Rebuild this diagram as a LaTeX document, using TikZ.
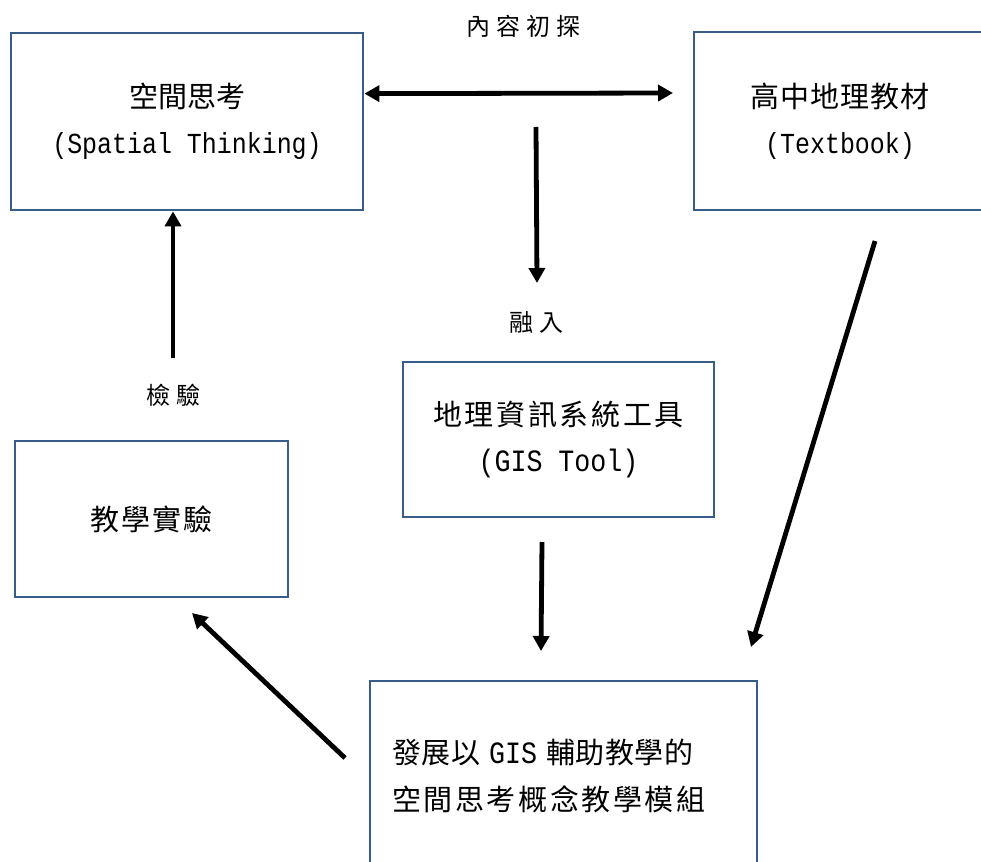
\documentclass[tikz,border=0pt]{standalone}
\usepackage{fontspec}
\setmainfont{Liberation Mono}[FakeStretch=0.86]
\newfontfamily\cjkfont{Noto Sans CJK TC}
\usetikzlibrary{arrows.meta,calc}
\definecolor{boxblue}{HTML}{385D8A}
% CJK run with extra tracking (percent of the font size)
\newcommand{\cjktext}[2]{{\cjkfont\addfontfeature{LetterSpace=#1}#2}}
\tikzset{
  box/.style={draw=boxblue, line width=2.8pt, align=center, inner sep=0pt,
    font=\fontsize{29pt}{46pt}\selectfont},
  lbl/.style={inner sep=0pt, font=\fontsize{24pt}{30pt}\selectfont},
  flow/.style={line width=4.8pt, -{Triangle[width=16pt,length=15pt]}},
  flowboth/.style={line width=4.8pt, {Triangle[width=16pt,length=15pt]}-{Triangle[width=16pt,length=15pt]}},
}
\begin{document}
\begin{tikzpicture}[x=1pt,y=-1pt]
\useasboundingbox (0,0) rectangle (981,861);

% boxes
\node[box, minimum width=352pt, minimum height=177pt] (spatial) at (187,121.5)
  {\cjktext{0}{空間思考}\\(Spatial Thinking)};
\node[box, minimum width=292pt, minimum height=178pt] (textbook) at (840,121)
  {\cjktext{4}{高中地理教材}\\(Textbook)};
\node[box, minimum width=311pt, minimum height=155pt] (gis) at (558.5,439.5)
  {\cjktext{9}{地理資訊系統工具}\\{\fontsize{31pt}{46pt}\selectfont(GIS Tool)}};
\node[box, minimum width=273pt, minimum height=156pt] (experiment) at (151.5,519)
  {\cjktext{7}{教學實驗}};
\node[box, minimum width=387pt, minimum height=189pt, align=left,
      text width=343pt, inner xsep=22pt,
      font=\fontsize{29pt}{47pt}\selectfont] (module) at (563.5,775.5)
  {\cjktext{2}{發展以}\kern9pt{\fontsize{31pt}{47pt}\selectfont GIS}\kern9pt\cjktext{2}{輔助教學的}\\
   \cjktext{9}{空間思考概念教學模組}};

% labels
\node[lbl] (explore) at (523,26) {\cjktext{25}{內容初探}};
\node[lbl] (merge) at (536,322) {\cjktext{25}{融入}};
\node[lbl] (check) at (173,395) {\cjktext{25}{檢驗}};

% connector end points
\coordinate (dblL) at ($(spatial.north east)!0.345!(spatial.south east)$);
\coordinate (dblR) at (673,93);
\coordinate (inS) at (536,127);
\coordinate (inE) at (537,283);
\coordinate (upS) at (173,358);
\coordinate (gisS) at (542,542);
\coordinate (gisE) at (541,651);
\coordinate (tbS) at (875,241);
\coordinate (tbE) at (751,647);
\coordinate (modS) at (345,758);
\coordinate (modE) at (192,613);

% connectors
\draw[flowboth] (dblL) -- (dblR);
\draw[flow] (inS) -- (inE);
\draw[flow] (upS) -- (upS |- spatial.south);
\draw[flow] (gisS) -- (gisE);
\draw[flow] (tbS) -- (tbE);
\draw[flow] (modS) -- (modE);
\end{tikzpicture}
\end{document}
